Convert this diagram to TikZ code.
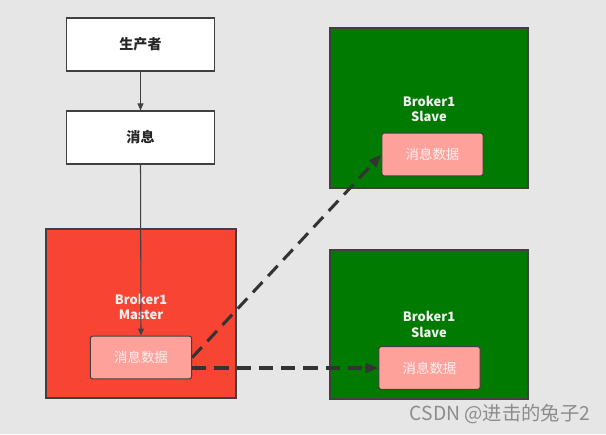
\documentclass[tikz,border=0pt]{standalone}
\usepackage{fontspec}
\setmainfont{Noto Sans CJK SC}
\usetikzlibrary{arrows.meta}
\definecolor{bgc}{HTML}{E6E6E6}
\definecolor{edgec}{HTML}{404040}
\definecolor{masterc}{HTML}{F84433}
\definecolor{slavec}{HTML}{017A01}
\definecolor{datac}{HTML}{FFA19B}
\tikzset{>={Triangle[length=6pt,width=5pt]},
  every node/.style={inner sep=0pt},
  plain/.style={draw=edgec,line width=.9pt,fill=white,minimum width=4.44cm,minimum height=1.59cm,font=\fontsize{12}{14}\selectfont\bfseries,text=black!85},
  broker/.style={draw=edgec,line width=.9pt},
  data/.style={draw=edgec,line width=.9pt,fill=datac,rounded corners=2pt,minimum width=3.04cm,minimum height=1.28cm,font=\fontsize{11.5}{14}\selectfont,text=white!94!red},
  tag/.style={align=center,font=\fontsize{11}{13.5}\selectfont\bfseries,text=white!94!black},
  flow/.style={->,edgec,line width=.9pt},
  copy/.style={-{Triangle[length=11pt,width=8pt]},black!80,line width=2.6pt,dash pattern=on 12pt off 7pt}}
\begin{document}
\begin{tikzpicture}[x=0.03cm,y=-0.03cm]
\useasboundingbox[fill=bgc] (0,0) rectangle (606,434);
% producer side
\node[plain] (prod) at (140.5,44.5) {生产者};
\node[plain] (msg) at (140.5,137.5) {消息};
\node[broker,fill=masterc,minimum width=5.7cm,minimum height=5.07cm] (master) at (141,313.5) {};
\node[tag] (mtag) at (141,307) {Broker1\\Master};
\node[data] (md) at (141,357.5) {消息数据};
% slaves
\node[broker,fill=slavec,minimum width=5.94cm,minimum height=4.8cm] (slaveA) at (429,108) {};
\node[tag] (stagA) at (429,109) {Broker1\\Slave};
\node[data] (sdA) at (432.5,154.5) {消息数据};
\node[broker,fill=slavec,minimum width=5.94cm,minimum height=4.47cm] (slaveB) at (429,324.5) {};
\node[tag] (stagB) at (429,324.5) {Broker1\\Slave};
\node[data] (sdB) at (429.5,368) {消息数据};
% arrows
\draw[flow] (prod.south)--(msg.north);
\draw[flow] (msg.south)--(md.north);
\draw[copy] (md.east)--(sdA.west);
\draw[copy] (sdB.west -| md.east)--(sdB.west);
\node[font=\fontsize{16.5}{19}\selectfont,text=black!45] (mark) at (500,414) {CSDN @进击的兔子2};
\end{tikzpicture}
\end{document}
